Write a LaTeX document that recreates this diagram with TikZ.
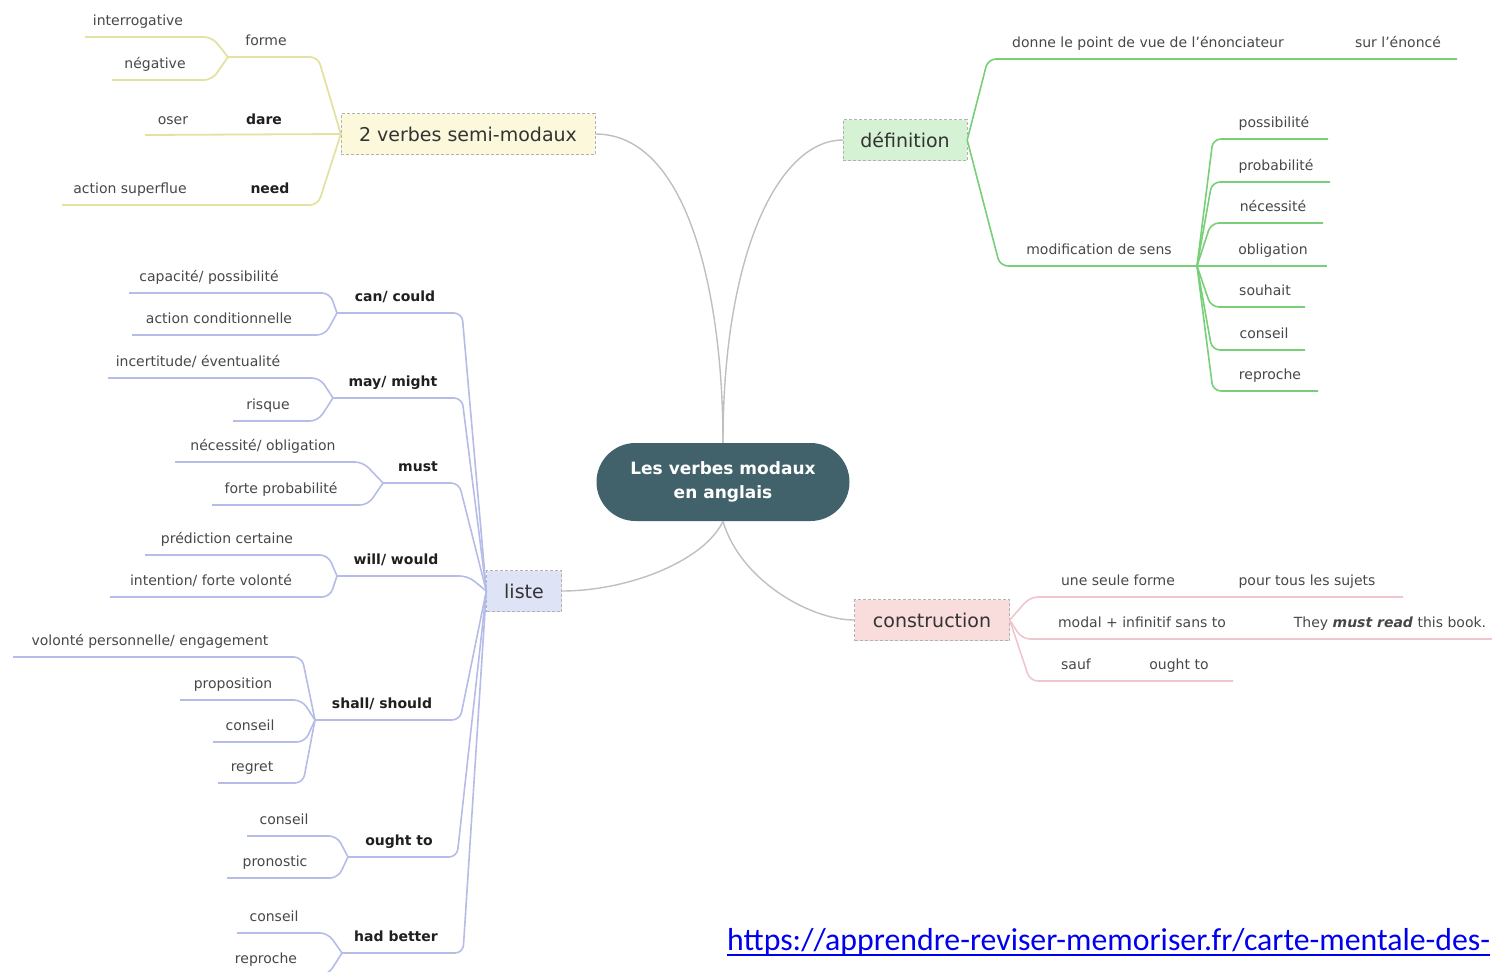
\documentclass[tikz,border=0pt]{standalone}
\usepackage{fontspec}
\setmainfont{DejaVu Sans}
\newfontfamily\urlfont{Carlito}
\definecolor{hubfill}{HTML}{41626B}
\definecolor{ylwline}{HTML}{E4E2A2}
\definecolor{ylwfill}{HTML}{FBF8DC}
\definecolor{grnline}{HTML}{78CF78}
\definecolor{grnfill}{HTML}{D6F2D4}
\definecolor{lavline}{HTML}{B6BCE8}
\definecolor{lavfill}{HTML}{DFE3F6}
\definecolor{pnkline}{HTML}{F0C6CC}
\definecolor{pnkfill}{HTML}{F9DCDC}
\definecolor{linkblue}{HTML}{0000EE}
\tikzset{
  leaf/.style={inner sep=0pt, anchor=base, text=black!72, font=\fontsize{14}{16}\selectfont},
  sub/.style={leaf, text=black!88, font={\bfseries\fontsize{14}{16}\selectfont}},
  topic/.style={draw=black!30, densely dashed, minimum height=41pt, inner sep=0pt,
    text=black!80, font=\fontsize{19}{22}\selectfont},
  hub/.style={fill=hubfill, rounded corners=39pt, minimum width=253pt, minimum height=78pt,
    align=center, text=white, font={\bfseries\fontsize{17}{24}\selectfont}},
  ylw/.style={draw=ylwline, line width=1.8pt, rounded corners=8pt},
  grn/.style={draw=grnline, line width=1.6pt, rounded corners=8pt},
  lav/.style={draw=lavline, line width=1.6pt, rounded corners=8pt},
  pnk/.style={draw=pnkline, line width=1.6pt, rounded corners=8pt},
  spoke/.style={draw=black!25, line width=1.4pt}
}
\begin{document}
\begin{tikzpicture}[x=1pt,y=-1pt]
\useasboundingbox (0,0) rectangle (1492,972);
\clip (0,0) rectangle (1492,972);

\node[hub] (hub) at (723,482) {Les verbes modaux\\en anglais};
\node[topic, fill=ylwfill, minimum width=254pt] (semi) at (468,134) {2 verbes semi-modaux};
\node[topic, fill=grnfill, minimum width=124pt] (def) at (905,140) {définition};
\node[topic, fill=lavfill, minimum width=75pt] (liste) at (524,591) {liste};
\node[topic, fill=pnkfill, minimum width=155pt] (cons) at (932,620) {construction};

\draw[spoke] (semi.east) .. controls (690,134) and (723,300) .. (hub.north);
\draw[spoke] (hub.north) .. controls (723,250) and (780,140) .. (def.west);
\draw[spoke] (hub.south) .. controls (705,560) and (630,591) .. (liste.east);
\draw[spoke] (hub.south) .. controls (740,580) and (810,620) .. (cons.west);

\coordinate (formeJ) at (228,57);
\coordinate (formeC) at (318,57);
\coordinate (interC) at (212,37);
\coordinate (interW) at (85,37);
\coordinate (negC) at (212,80);
\coordinate (negW) at (112,80);
\coordinate (dareW) at (145,135);
\coordinate (needC) at (318,205);
\coordinate (needW) at (62,205);
\draw[ylw] (semi.west) -- (formeC) -- (formeJ);
\draw[ylw] (formeJ) -- (interC) -- (interW);
\draw[ylw] (formeJ) -- (negC) -- (negW);
\draw[ylw] (semi.west) -- (dareW);
\draw[ylw] (semi.west) -- (needC) -- (needW);
\node[leaf] (forme) at (266,45) {forme};
\node[leaf] (inter) at (138,25) {interrogative};
\node[leaf] (neg) at (155,68) {négative};
\node[sub] (dare) at (264,124) {dare};
\node[leaf] (oser) at (173,124) {oser};
\node[sub] (need) at (270,193) {need};
\node[leaf] (superf) at (130,193) {action superflue};

\coordinate (donneC) at (988,59);
\coordinate (donneE) at (1457,59);
\coordinate (modC) at (1000,266);
\coordinate (modJ) at (1197,266);
\draw[grn] (def.east) -- (donneC) -- (donneE);
\draw[grn] (def.east) -- (modC) -- (modJ);
\draw[grn] (modJ) -- (1213,139) -- (1328,139);
\draw[grn] (modJ) -- (1212,182) -- (1330,182);
\draw[grn] (modJ) -- (1211,223) -- (1323,223);
\draw[grn] (modJ) -- (1327,266);
\draw[grn] (modJ) -- (1211,307) -- (1305,307);
\draw[grn] (modJ) -- (1212,350) -- (1305,350);
\draw[grn] (modJ) -- (1213,391) -- (1318,391);
\node[leaf] (donne) at (1148,47) {donne le point de vue de l'énonciateur};
\node[leaf] (enonce) at (1398,47) {sur l'énoncé};
\node[leaf] (modif) at (1099,254) {modification de sens};
\node[leaf] (possib) at (1274,127) {possibilité};
\node[leaf] (probab) at (1276,170) {probabilité};
\node[leaf] (neces) at (1273,211) {nécessité};
\node[leaf] (oblig) at (1273,254) {obligation};
\node[leaf] (souhait) at (1265,295) {souhait};
\node[leaf] (conseilA) at (1264,338) {conseil};
\node[leaf] (reprocheA) at (1270,379) {reproche};

\coordinate (formeU) at (1030,597);
\coordinate (modalU) at (1022,639);
\coordinate (saufU) at (1030,681);
\draw[pnk] (cons.east) -- (formeU) -- (1403,597);
\draw[pnk] (cons.east) -- (modalU) -- (1492,639);
\draw[pnk] (cons.east) -- (saufU) -- (1233,681);
\node[leaf] (seule) at (1118,585) {une seule forme};
\node[leaf] (sujets) at (1307,585) {pour tous les sujets};
\node[leaf] (modal) at (1142,627) {modal + infinitif sans to};
\node[leaf] (book) at (1390,627) {They \textbf{\textit{must read}} this book.};
\node[leaf] (sauf) at (1076,669) {sauf};
\node[leaf] (oughtB) at (1179,669) {ought to};

\coordinate (canC) at (462,313);
\coordinate (canJ) at (337,313);
\coordinate (mayC) at (462,398);
\coordinate (mayJ) at (333,398);
\coordinate (mustC) at (459,483);
\coordinate (mustJ) at (383,483);
\coordinate (willC) at (468,576);
\coordinate (willJ) at (337,576);
\coordinate (shallC) at (460,720);
\coordinate (shallJ) at (315,720);
\coordinate (oughtC) at (457,857);
\coordinate (oughtJ) at (348,857);
\coordinate (hadC) at (463,953);
\coordinate (hadJ) at (342,953);
\draw[lav] (liste.west) -- (canC) -- (canJ);
\draw[lav] (liste.west) -- (mayC) -- (mayJ);
\draw[lav] (liste.west) -- (mustC) -- (mustJ);
\draw[lav] (liste.west) -- (willC) -- (willJ);
\draw[lav] (liste.west) -- (shallC) -- (shallJ);
\draw[lav] (liste.west) -- (oughtC) -- (oughtJ);
\draw[lav] (liste.west) -- (hadC) -- (hadJ);
\draw[lav] (canJ) -- (330,293) -- (129,293);
\draw[lav] (canJ) -- (325,335) -- (132,335);
\draw[lav] (mayJ) -- (320,378) -- (108,378);
\draw[lav] (mayJ) -- (318,421) -- (233,421);
\draw[lav] (mustJ) -- (363,462) -- (175,462);
\draw[lav] (mustJ) -- (368,505) -- (212,505);
\draw[lav] (willJ) -- (328,555) -- (145,555);
\draw[lav] (willJ) -- (330,597) -- (110,597);
\draw[lav] (shallJ) -- (302,657) -- (13,657);
\draw[lav] (shallJ) -- (302,700) -- (180,700);
\draw[lav] (shallJ) -- (305,742) -- (213,742);
\draw[lav] (shallJ) -- (303,783) -- (218,783);
\draw[lav] (oughtJ) -- (337,836) -- (247,836);
\draw[lav] (oughtJ) -- (338,878) -- (227,878);
\draw[lav] (hadJ) -- (328,933) -- (237,933);
\draw[lav] (hadJ) -- (328,975) -- (230,975);
\node[sub] (can) at (395,301) {can/ could};
\node[leaf] (capa) at (209,281) {capacité/ possibilité};
\node[leaf] (actcond) at (219,323) {action conditionnelle};
\node[sub] (may) at (393,386) {may/ might};
\node[leaf] (incert) at (198,366) {incertitude/ éventualité};
\node[leaf] (risque) at (268,409) {risque};
\node[sub] (must) at (418,471) {must};
\node[leaf] (necob) at (263,450) {nécessité/ obligation};
\node[leaf] (forte) at (281,493) {forte probabilité};
\node[sub] (will) at (396,564) {will/ would};
\node[leaf] (predi) at (227,543) {prédiction certaine};
\node[leaf] (inten) at (211,585) {intention/ forte volonté};
\node[sub] (shall) at (382,708) {shall/ should};
\node[leaf] (volon) at (150,645) {volonté personnelle/ engagement};
\node[leaf] (propo) at (233,688) {proposition};
\node[leaf] (conseilB) at (250,730) {conseil};
\node[leaf] (regret) at (252,771) {regret};
\node[sub] (ought) at (399,845) {ought to};
\node[leaf] (conseilC) at (284,824) {conseil};
\node[leaf] (prono) at (275,866) {pronostic};
\node[sub] (had) at (396,941) {had better};
\node[leaf] (conseilD) at (274,921) {conseil};
\node[leaf] (reprocheB) at (266,963) {reproche};

\node[inner sep=0pt, anchor=base west, text=linkblue, font={\urlfont\fontsize{31.8}{34}\selectfont}]
  (link) at (727,950) {https://apprendre-reviser-memoriser.fr/carte-mentale-des-};
\draw[linkblue, line width=1.6pt] ([yshift=-5pt]link.base west) -- ([yshift=-5pt]link.base east);
\end{tikzpicture}
\end{document}
